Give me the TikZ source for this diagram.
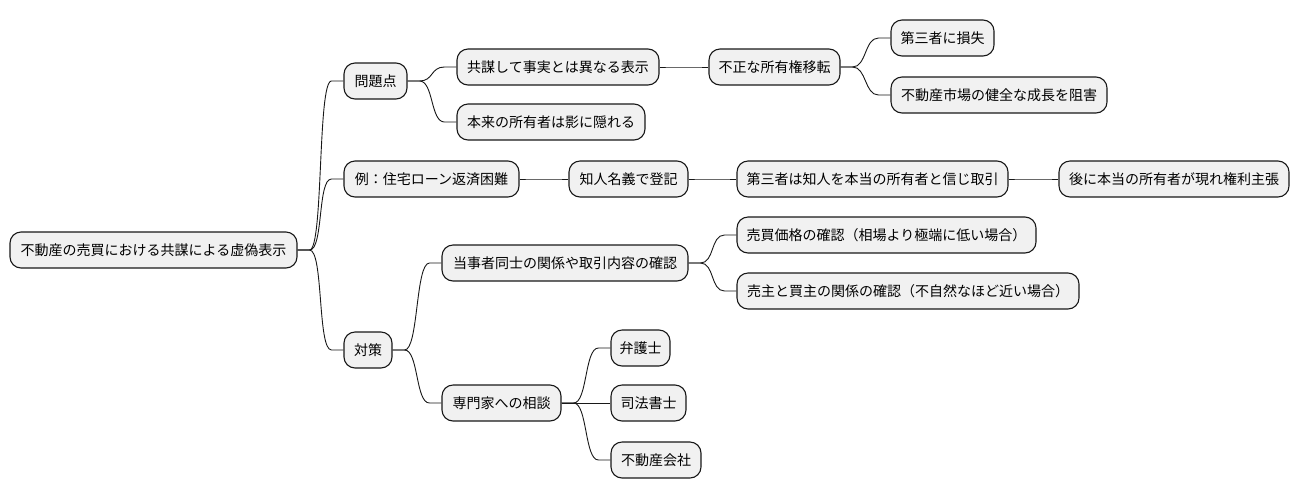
\documentclass[tikz,border=0pt]{standalone}
\usepackage{fontspec}
\setmainfont{Noto Sans CJK JP}
\definecolor{boxfill}{HTML}{F1F1F1}
\definecolor{boxline}{HTML}{181818}
\tikzset{
  mmbox/.style={draw=boxline, fill=boxfill, line width=1.1pt, rounded corners=11pt,
    minimum height=36pt, inner sep=0pt, align=center, font=\fontsize{14pt}{16pt}\selectfont},
  mmline/.style={draw=boxline, line width=0.9pt}
}
\newcommand\mmconn[2]{\draw[mmline] (#1.east) -- ([xshift=12pt]#1.east) .. controls ([xshift=26pt]#1.east) and ([xshift=-26pt]#2.west) .. ([xshift=-12pt]#2.west) -- (#2.west);}
\begin{document}
\begin{tikzpicture}[x=1pt,y=-1pt]
\useasboundingbox (0,0) rectangle (1300,499);
\node[mmbox, minimum width=287pt] (root) at (153.5,250) {不動産の売買における共謀による虚偽表示};
\node[mmbox, minimum width=63pt] (p1) at (375.5,81) {問題点};
\node[mmbox, minimum width=175pt] (p2) at (431.5,179) {例：住宅ローン返済困難};
\node[mmbox, minimum width=48pt] (p3) at (368,350) {対策};
\node[mmbox, minimum width=202pt] (c1) at (558,67) {共謀して事実とは異なる表示};
\node[mmbox, minimum width=188pt] (c2) at (551,122) {本来の所有者は影に隠れる};
\node[mmbox, minimum width=131pt] (c3) at (774.5,67) {不正な所有権移転};
\node[mmbox, minimum width=103pt] (c4) at (942.5,38) {第三者に損失};
\node[mmbox, minimum width=216pt] (c5) at (999,95) {不動産市場の健全な成長を阻害};
\node[mmbox, minimum width=119pt] (d1) at (628.5,179) {知人名義で登記};
\node[mmbox, minimum width=271pt] (d2) at (872.5,179) {第三者は知人を本当の所有者と信じ取引};
\node[mmbox, minimum width=230pt] (d3) at (1174,179) {後に本当の所有者が現れ権利主張};
\node[mmbox, minimum width=246pt] (e1) at (565,263) {当事者同士の関係や取引内容の確認};
\node[mmbox, minimum width=299pt] (e2) at (886.5,235) {売買価格の確認（相場より極端に低い場合）};
\node[mmbox, minimum width=342pt] (e3) at (908,291) {売主と買主の関係の確認（不自然なほど近い場合）};
\node[mmbox, minimum width=119pt] (f1) at (501.5,403) {専門家への相談};
\node[mmbox, minimum width=59pt] (f2) at (640.5,348) {弁護士};
\node[mmbox, minimum width=75pt] (f3) at (648.5,403) {司法書士};
\node[mmbox, minimum width=90pt] (f4) at (656,460) {不動産会社};
\mmconn{root}{p1}
\mmconn{root}{p2}
\mmconn{root}{p3}
\mmconn{p1}{c1}
\mmconn{p1}{c2}
\mmconn{c1}{c3}
\mmconn{c3}{c4}
\mmconn{c3}{c5}
\mmconn{p2}{d1}
\mmconn{d1}{d2}
\mmconn{d2}{d3}
\mmconn{p3}{e1}
\mmconn{p3}{f1}
\mmconn{e1}{e2}
\mmconn{e1}{e3}
\mmconn{f1}{f2}
\mmconn{f1}{f3}
\mmconn{f1}{f4}
\end{tikzpicture}
\end{document}
